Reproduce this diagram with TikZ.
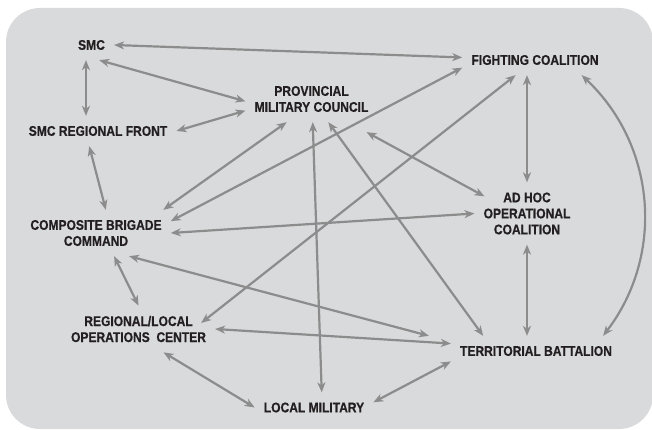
\documentclass[tikz,border=0pt]{standalone}
\usepackage{fontspec}
\newfontfamily\condfont[FakeStretch=0.86, BoldFeatures={FakeBold=0.6}]{Liberation Sans}
\usetikzlibrary{arrows.meta}
\definecolor{bgc}{RGB}{217,218,220}
\definecolor{arr}{RGB}{140,140,140}
\definecolor{txt}{RGB}{35,31,32}
\tikzset{
  lbl/.style={align=center, text=txt, inner xsep=9pt, inner ysep=10pt,
    font=\condfont\bfseries\fontsize{14}{16}\selectfont},
  link/.style={<->, draw=arr, line width=2.2pt}
}
\begin{document}
\begin{tikzpicture}[x=1pt, y=1pt, line join=round, >={Stealth[length=10pt,width=8pt,inset=3pt]}]
\useasboundingbox (0,0) rectangle (652,-430);
\fill[bgc, rounded corners=34pt] (6,-8) rectangle (653,-429);
% cac khoi
\node[lbl] (smc) at (91.5,-45) {SMC};
\node[lbl] (fc) at (535,-60) {FIGHTING COALITION};
\node[lbl] (pmc) at (311.5,-99) {PROVINCIAL\\MILITARY COUNCIL};
\node[lbl] (srf) at (98,-131) {SMC REGIONAL FRONT};
\node[lbl] (ah) at (527,-213.5) {AD HOC\\OPERATIONAL\\COALITION};
\node[lbl] (cbc) at (96,-233) {COMPOSITE BRIGADE\\COMMAND};
\node[lbl] (rloc) at (138.5,-329) {REGIONAL/LOCAL\\OPERATIONS\ \ CENTER};
\node[lbl] (tb) at (536,-351) {TERRITORIAL BATTALION};
\node[lbl] (lm) at (314,-407.5) {LOCAL MILITARY};
% cac mui ten
\draw[link] (smc.east) -- (fc.178);
\draw[link] (smc.-63) -- (pmc.182);
\draw[link] (smc.-110) -- (smc.-110 |- srf.north);
\draw[link] (srf.east) -- (pmc.190);
\draw[link] (srf.-120) -- (cbc.67);
\draw[link] (pmc.-137) -- (cbc.19);
\draw[link] (fc.186) -- (cbc.9);
\draw[link] (fc.south -| ah.north) -- (ah.north);
\draw[link] (fc.-18) to[bend left=42] ([xshift=-18pt]tb.north east);
\draw[link] (fc.-142) -- ([xshift=-14pt,yshift=6pt]rloc.east);
\draw[link] ([xshift=-11pt,yshift=-10pt]pmc.south east) -- ([xshift=10pt,yshift=-14pt]ah.north west);
\draw[link] (ah.west) -- (cbc.east);
\draw[link] (pmc.-54) -- (tb.164);
\draw[link] (pmc.-87) -- (lm.63);
\draw[link] (ah.south) -- (ah.south |- tb.north);
\draw[link] (cbc.-35) -- ([xshift=-22pt]tb.north west);
\draw[link] (rloc.east) -- (tb.175);
\draw[link] (rloc.-43) -- (lm.west);
\draw[link] (lm.5) -- (tb.-173);
\draw[link] (cbc.-52) -- (rloc.north);
\end{tikzpicture}
\end{document}
